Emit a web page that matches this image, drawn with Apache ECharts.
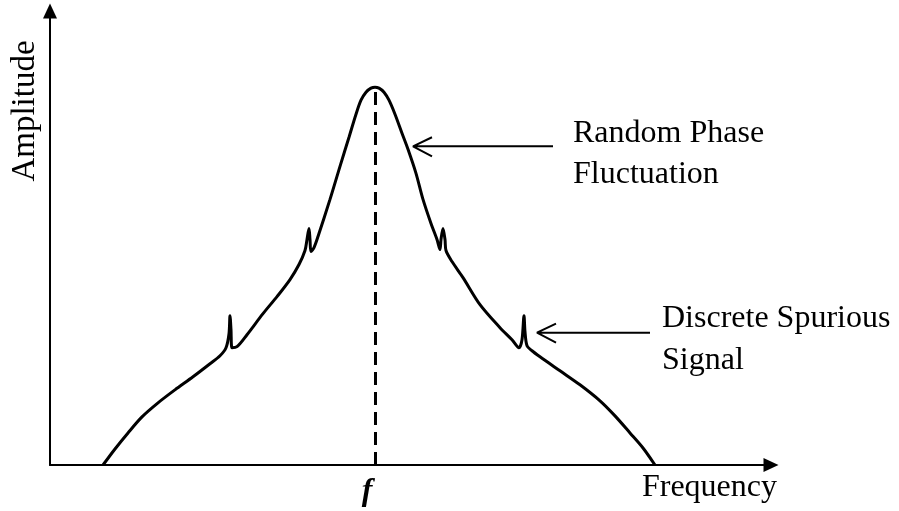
<!DOCTYPE html>
<html>
<head>
<meta charset="utf-8">
<script src="https://cdn.jsdelivr.net/npm/echarts@6/dist/echarts.min.js"></script>
<style>
  html, body { margin: 0; padding: 0; background: #fff; }
  #chart { width: 899px; height: 511px; }
</style>
</head>
<body>
<div id="chart"></div>
<script>
// spectrum shape: [frequency, amplitude] (arbitrary units)
const spectrum = [
  [53, 0], [65, 16], [78, 32], [92, 48], [108, 62], [125, 75], [143, 88],
  [160, 101], [170, 109], [176, 117], [179, 131], [180, 149], [181, 135],
  [182, 117], [187, 118], [197, 130], [213, 151], [227, 168], [240, 185],
  [249, 200], [255, 214], [257, 225], [259, 236], [260, 225], [261, 213],
  [264, 217], [268, 228], [280, 265], [290, 298], [299, 327], [306, 350],
  [311, 364], [316, 372], [321, 376], [325, 377], [329, 376], [334, 372],
  [339, 364], [345, 350], [352, 331], [358, 315], [366, 291], [373, 265],
  [381, 241], [387, 225], [390, 215], [391, 225], [393, 236], [395, 225],
  [396, 214], [402, 203], [413, 187], [430, 160], [450, 137], [462, 125],
  [469, 117], [472, 125], [474, 149], [475, 133], [477, 119], [482, 114],
  [490, 108], [510, 94], [530, 80], [550, 64], [565, 49], [580, 32],
  [593, 17], [605, 0]
];
const carrierFreq = 325;
const carrierPeak = 377;
const freqMax = 721;
const ampMax = 453;

// annotation pointers: arm, tip, arm, tip, tail
const phaseArrow = [[382, 327], [363, 318], [382, 308], [363, 318], [503, 318]];
const spurArrow = [[506, 141], [487, 132], [506, 122], [487, 132], [600, 132]];

const serif = '"Liberation Serif", "DejaVu Serif", serif';

const chart = echarts.init(document.getElementById('chart'), null, { renderer: 'canvas' });

const arrowLine = (data) => ({
  type: 'line',
  data: data,
  showSymbol: false,
  silent: true,
  lineStyle: { color: '#000', width: 2 },
  z: 3
});

chart.setOption({
  animation: false,
  backgroundColor: '#fff',
  grid: { left: 50, right: 128, top: 11, bottom: 46 },
  xAxis: {
    type: 'value',
    min: 0,
    max: freqMax,
    name: 'Frequency',
    nameLocation: 'end',
    nameGap: 6,
    nameTextStyle: {
      fontFamily: serif, fontSize: 32, color: '#000',
      align: 'right', verticalAlign: 'top', padding: [7, 0, 0, 0]
    },
    axisLine: {
      lineStyle: { color: '#000', width: 2 },
      symbol: ['none', 'triangle'],
      symbolSize: [14, 15]
    },
    axisTick: { show: false },
    splitLine: { show: false },
    axisLabel: {
      customValues: [carrierFreq],
      formatter: () => 'f',
      fontFamily: serif, fontSize: 32, fontStyle: 'italic', fontWeight: 'bold',
      color: '#000', margin: 11, padding: [0, 16, 0, 0]
    }
  },
  yAxis: {
    type: 'value',
    min: 0,
    max: ampMax,
    axisLine: {
      show: true,
      lineStyle: { color: '#000', width: 2 },
      symbol: ['none', 'triangle'],
      symbolSize: [14, 15]
    },
    axisTick: { show: false },
    splitLine: { show: false },
    axisLabel: { show: false }
  },
  graphic: [
    {
      type: 'text', x: 25, y: 111, rotation: Math.PI / 2,
      style: {
        text: 'Amplitude', font: '33px ' + serif, fill: '#000',
        textAlign: 'center', textVerticalAlign: 'middle'
      }
    },
    {
      type: 'text', x: 573, y: 113,
      style: {
        text: 'Random Phase\nFluctuation', font: '32px ' + serif, fill: '#000',
        lineHeight: 41, textAlign: 'left', textVerticalAlign: 'top'
      }
    },
    {
      type: 'text', x: 662, y: 298,
      style: {
        text: 'Discrete Spurious\nSignal', font: '32px ' + serif, fill: '#000',
        lineHeight: 42, textAlign: 'left', textVerticalAlign: 'top'
      }
    }
  ],
  series: [
    {
      type: 'line',
      data: spectrum,
      smooth: 0.3,
      showSymbol: false,
      lineStyle: { color: '#000', width: 3 },
      z: 4,
      markLine: {
        silent: true,
        symbol: 'none',
        label: { show: false },
        lineStyle: { color: '#000', width: 3, type: [13, 7] },
        data: [[{ coord: [carrierFreq, 0] }, { coord: [carrierFreq, carrierPeak] }]]
      }
    },
    arrowLine(phaseArrow),
    arrowLine(spurArrow)
  ]
});
</script>
</body>
</html>
